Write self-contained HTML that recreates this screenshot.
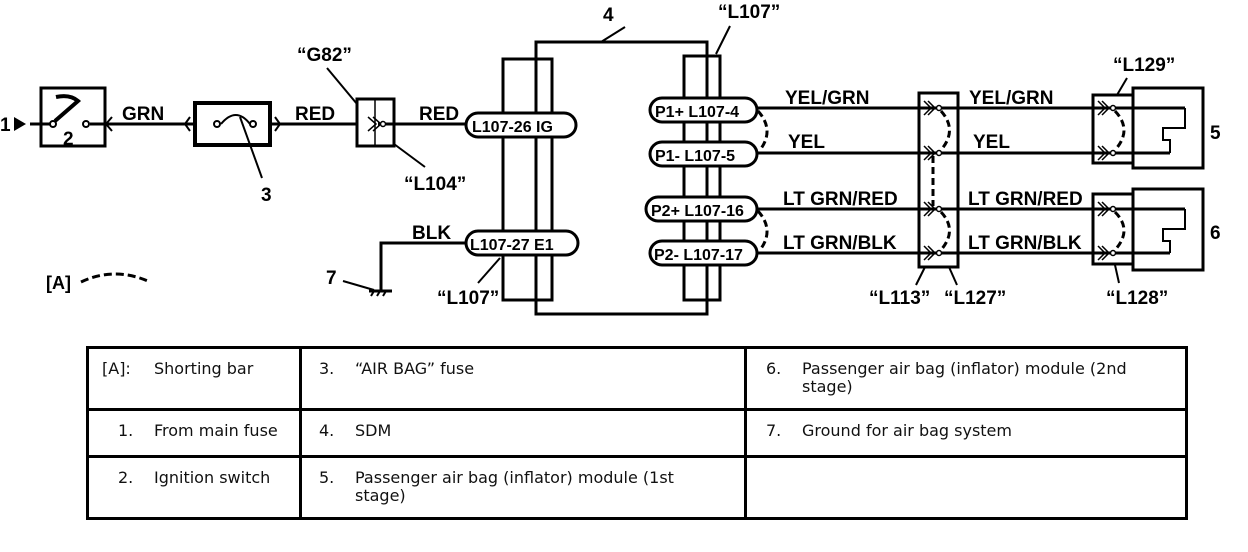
<!DOCTYPE html>
<html><head><meta charset="utf-8"><style>
html,body{margin:0;padding:0;background:#fff;}
.wrap{position:relative;width:1248px;height:552px;overflow:hidden;}
svg{position:absolute;left:0;top:0;}
svg text{font-family:"Liberation Sans",Arial,sans-serif;font-weight:bold;fill:#000;}
table{position:absolute;left:86px;top:346px;width:1102px;height:172px;border-collapse:collapse;table-layout:fixed;font-family:"DejaVu Sans","Liberation Sans",sans-serif;font-size:16px;color:#111;}
td{border:3px solid #000;vertical-align:top;padding:11px 4px 0 17px;line-height:18px;overflow:hidden;white-space:nowrap;}
td .n{display:inline-block;width:36px;}
td .w{display:inline-block;vertical-align:top;}
</style></head><body><div class="wrap">
<svg width="1248" height="552" viewBox="0 0 1248 552">
<g stroke="#000" fill="none" stroke-width="3">
<line x1="30" y1="124" x2="468" y2="124"/>
<rect x="41" y="88" width="64" height="58" fill="#fff"/>
<line x1="30" y1="124" x2="52" y2="124"/>
<line x1="90" y1="124" x2="106" y2="124"/>
<path d="M55 121 L78 101 Q70 94 56 97" stroke-width="4"/>
<circle cx="53" cy="124" r="3" fill="#fff" stroke-width="2"/>
<circle cx="86" cy="124" r="3" fill="#fff" stroke-width="2"/>
<path d="M112 117 L106 124 L112 131" stroke-width="2"/>
<rect x="195" y="103" width="75" height="42" fill="#fff" stroke-width="4"/>
<line x1="270" y1="124" x2="300" y2="124"/>
<path d="M190 117 L185 124 L190 131" stroke-width="2"/>
<path d="M275 117 L280 124 L275 131" stroke-width="2"/>
<path d="M221 124 Q236 106 250 124" stroke-width="2"/>
<circle cx="217" cy="124" r="3" fill="#fff" stroke-width="2"/>
<circle cx="253" cy="124" r="3" fill="#fff" stroke-width="2"/>
<line x1="240" y1="117" x2="262" y2="178" stroke-width="2"/>
<rect x="357" y="99" width="37" height="47" fill="#fff"/>
<line x1="375" y1="99" x2="375" y2="146" stroke-width="1.5"/>
<line x1="378" y1="124" x2="468" y2="124"/>
<path d="M368 117 L376 124 L368 131 M373 117 L381 124 L373 131" stroke-width="1.5"/>
<circle cx="383" cy="124" r="2.5" fill="#fff" stroke-width="1.5"/>
<line x1="327" y1="68" x2="357" y2="104" stroke-width="2"/>
<line x1="394" y1="144" x2="425" y2="167" stroke-width="2"/>
<rect x="536" y="42" width="171" height="272"/>
<line x1="601" y1="42" x2="625" y2="27" stroke-width="2"/>
<rect x="503" y="59" width="49" height="241"/>
<rect x="684" y="56" width="36" height="244"/>
<line x1="716" y1="54" x2="730" y2="26" stroke-width="2"/>
<rect x="466" y="113" width="110" height="24" rx="12" fill="#fff"/>
<rect x="466" y="231" width="112" height="24" rx="12" fill="#fff"/>
<line x1="500" y1="258" x2="478" y2="283" stroke-width="2"/>
<polyline points="466,243 381,243 381,290"/>
<line x1="369" y1="291" x2="392" y2="291"/>
<path d="M371 296 L374 291 M377 296 L380 291 M383 296 L386 291" stroke-width="2"/>
<line x1="343" y1="281" x2="374" y2="290" stroke-width="2"/>
<rect x="650" y="98" width="107" height="24" rx="12" fill="#fff"/>
<rect x="650" y="142" width="107" height="24" rx="12" fill="#fff"/>
<rect x="646" y="197" width="111" height="24" rx="12" fill="#fff"/>
<rect x="650" y="241" width="107" height="24" rx="12" fill="#fff"/>
<path d="M758 111 Q775 130 760 150" stroke-dasharray="7,4"/>
<path d="M758 211 Q775 230 760 250" stroke-dasharray="7,4"/>
<line x1="757" y1="108" x2="1185" y2="108"/>
<line x1="757" y1="153" x2="1170" y2="153"/>
<line x1="757" y1="209" x2="1185" y2="209"/>
<line x1="757" y1="253" x2="1170" y2="253"/>
<rect x="919" y="93" width="39" height="174"/>
<g stroke-width="1.5">
<path d="M924 101 L931 108 L924 115 M928 101 L935 108 L928 115"/>
<path d="M924 146 L931 153 L924 160 M928 146 L935 153 L928 160"/>
<path d="M924 202 L931 209 L924 216 M928 202 L935 209 L928 216"/>
<path d="M924 246 L931 253 L924 260 M928 246 L935 253 L928 260"/>
</g>
<g fill="#fff" stroke-width="1.5">
<circle cx="939" cy="108" r="2.5"/><circle cx="939" cy="153" r="2.5"/><circle cx="939" cy="209" r="2.5"/><circle cx="939" cy="253" r="2.5"/>
</g>
<path d="M941 111 Q958 130 941 150 M941 212 Q958 230 941 250" stroke-dasharray="7,4"/>
<line x1="933" y1="156" x2="933" y2="206" stroke-dasharray="7,4"/>
<line x1="925" y1="267" x2="916" y2="285" stroke-width="2"/>
<line x1="949" y1="267" x2="957" y2="285" stroke-width="2"/>
<rect x="1093" y="95" width="40" height="68"/>
<rect x="1133" y="88" width="70" height="80"/>
<polyline points="1185,108 1185,128 1163,128 1163,140 1170,140 1170,153" stroke-width="2"/>
<line x1="1117" y1="95" x2="1127" y2="78" stroke-width="2"/>
<rect x="1093" y="194" width="40" height="70"/>
<rect x="1133" y="189" width="70" height="81"/>
<polyline points="1185,209 1185,229 1163,229 1163,241 1170,241 1170,253" stroke-width="2"/>
<line x1="1115" y1="265" x2="1119" y2="283" stroke-width="2"/>
<g stroke-width="1.5">
<path d="M1098 101 L1105 108 L1098 115 M1102 101 L1109 108 L1102 115"/>
<path d="M1098 146 L1105 153 L1098 160 M1102 146 L1109 153 L1102 160"/>
<path d="M1098 202 L1105 209 L1098 216 M1102 202 L1109 209 L1102 216"/>
<path d="M1098 246 L1105 253 L1098 260 M1102 246 L1109 253 L1102 260"/>
</g>
<g fill="#fff" stroke-width="1.5">
<circle cx="1113" cy="108" r="2.5"/><circle cx="1113" cy="153" r="2.5"/><circle cx="1113" cy="209" r="2.5"/><circle cx="1113" cy="253" r="2.5"/>
</g>
<path d="M1115 111 Q1133 130 1115 150 M1115 212 Q1133 230 1115 250" stroke-dasharray="7,4"/>
<path d="M81 282 Q115 266 150 282" stroke-dasharray="8,4"/>
</g>
<polygon points="14,117 26,124 14,131" fill="#000"/>
<text x="0" y="131" font-size="19">1</text>
<text x="63" y="145" font-size="19">2</text>
<text x="122" y="120" font-size="19">GRN</text>
<text x="295" y="120" font-size="19">RED</text>
<text x="419" y="120" font-size="19">RED</text>
<text x="261" y="201" font-size="19">3</text>
<text x="297" y="61" font-size="19">“G82”</text>
<text x="404" y="190" font-size="19">“L104”</text>
<text x="472" y="132" font-size="16">L107-26  IG</text>
<text x="470" y="250" font-size="16">L107-27  E1</text>
<text x="412" y="239" font-size="19">BLK</text>
<text x="326" y="284" font-size="19">7</text>
<text x="46" y="289" font-size="18">[A]</text>
<text x="437" y="304" font-size="19">“L107”</text>
<text x="603" y="21" font-size="19">4</text>
<text x="718" y="18" font-size="19">“L107”</text>
<text x="655" y="117" font-size="16">P1+ L107-4</text>
<text x="655" y="161" font-size="16">P1-  L107-5</text>
<text x="651" y="216" font-size="16">P2+ L107-16</text>
<text x="654" y="260" font-size="16">P2- L107-17</text>
<text x="785" y="104" font-size="19">YEL/GRN</text>
<text x="788" y="148" font-size="19">YEL</text>
<text x="783" y="205" font-size="19">LT GRN/RED</text>
<text x="783" y="249" font-size="19">LT GRN/BLK</text>
<text x="969" y="104" font-size="19">YEL/GRN</text>
<text x="973" y="148" font-size="19">YEL</text>
<text x="968" y="205" font-size="19">LT GRN/RED</text>
<text x="968" y="249" font-size="19">LT GRN/BLK</text>
<text x="869" y="304" font-size="19">“L113”</text>
<text x="944" y="304" font-size="19">“L127”</text>
<text x="1113" y="71" font-size="19">“L129”</text>
<text x="1106" y="304" font-size="19">“L128”</text>
<text x="1210" y="139" font-size="19">5</text>
<text x="1210" y="239" font-size="19">6</text>
</svg>
<table>
<colgroup><col style="width:213px"><col style="width:445px"><col></colgroup>
<tr style="height:62px"><td style="padding-left:13px"><span class="n" style="width:52px">[A]:</span>Shorting bar</td><td><span class="n">3.</span>“AIR BAG” fuse</td><td style="padding-left:19px"><span class="n">6.</span><span class="w">Passenger air bag (inflator) module (2nd<br>stage)</span></td></tr>
<tr style="height:47px"><td style="padding-left:29px"><span class="n">1.</span>From main fuse</td><td><span class="n">4.</span>SDM</td><td style="padding-left:19px"><span class="n">7.</span>Ground for air bag system</td></tr>
<tr style="height:62px"><td style="padding-left:29px"><span class="n">2.</span>Ignition switch</td><td><span class="n">5.</span><span class="w">Passenger air bag (inflator) module (1st<br>stage)</span></td><td></td></tr>
</table>
</div></body></html>
